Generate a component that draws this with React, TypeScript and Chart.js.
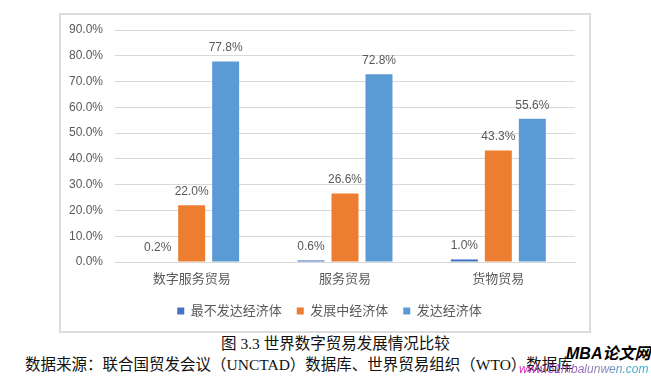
import React, { useEffect, useRef } from 'react';
import { Chart, registerables } from 'chart.js';

Chart.register(...registerables);

const categories = ['数字服务贸易', '服务贸易', '货物贸易'];
const seriesNames = ['最不发达经济体', '发展中经济体', '发达经济体'];
const leastDeveloped = [0.2, 0.6, 1.0];
const developing = [22.0, 26.6, 43.3];
const developed = [77.8, 72.8, 55.6];
const seriesColors = ['#4472C4', '#ED7D31', '#5B9BD5'];
const yMax = 90;
const yStep = 10;

const FONT = '"Liberation Sans", "Noto Sans CJK SC", sans-serif';
const TEXT_COLOR = '#595959';

const fmt = (v: number) => v.toFixed(1) + '%';

const dataLabelPlugin = {
  id: 'dataLabels',
  afterDatasetsDraw(chart: any) {
    const ctx = chart.ctx;
    ctx.save();
    ctx.font = `12px ${FONT}`;
    ctx.fillStyle = TEXT_COLOR;
    ctx.textAlign = 'center';
    ctx.textBaseline = 'alphabetic';
    chart.data.datasets.forEach((ds: any, di: number) => {
      const meta = chart.getDatasetMeta(di);
      meta.data.forEach((el: any, i: number) => {
        const v = ds.data[i] as number;
        ctx.fillText(fmt(v), el.x, el.y - 10);
      });
    });
    ctx.restore();
  },
};

function measureWidest(font: string): number {
  const c = document.createElement('canvas');
  const ctx = c.getContext('2d');
  if (!ctx) return 34;
  ctx.font = font;
  let w = 0;
  for (let v = 0; v <= yMax; v += yStep) {
    w = Math.max(w, ctx.measureText(fmt(v)).width);
  }
  return w;
}

function ChartCanvas() {
  const ref = useRef<HTMLCanvasElement | null>(null);
  useEffect(() => {
    const canvas = ref.current;
    if (!canvas) return;
    const values = [leastDeveloped, developing, developed];
    const widest = measureWidest(`12px ${FONT}`);
    const chart = new Chart(canvas, {
      type: 'bar',
      data: {
        labels: categories,
        datasets: seriesNames.map((name, i) => ({
          label: name,
          data: values[i],
          backgroundColor: seriesColors[i],
          borderWidth: 0,
          categoryPercentage: 0.665,
          barPercentage: 0.794,
        })),
      },
      options: {
        responsive: false,
        animation: false,
        devicePixelRatio: 1,
        layout: { padding: { left: 25, right: 15, top: 17, bottom: 4.5 } },
        plugins: {
          tooltip: { enabled: false },
          legend: {
            position: 'bottom',
            labels: {
              boxWidth: 7,
              boxHeight: 7,
              padding: 15,
              color: TEXT_COLOR,
              font: { size: 13, family: FONT },
            },
          },
        },
        scales: {
          x: {
            grid: { display: false, drawTicks: false },
            border: { display: true, color: '#D9D9D9' },
            ticks: {
              color: TEXT_COLOR,
              font: { size: 13, family: FONT },
              padding: 10,
            },
            afterFit(scale: any) {
              scale.height = 27.5;
            },
          },
          y: {
            min: 0,
            max: yMax,
            grid: { color: '#D9D9D9', drawTicks: false, lineWidth: 1 },
            border: { display: false },
            ticks: {
              stepSize: yStep,
              color: TEXT_COLOR,
              font: { size: 12, family: FONT },
              mirror: true,
              crossAlign: 'far',
              padding: -12 - widest,
              callback: (v: any) => fmt(Number(v)),
            },
            afterFit(scale: any) {
              scale.width = 31;
            },
          },
        },
      },
      plugins: [dataLabelPlugin],
    } as any);
    return () => chart.destroy();
  }, []);
  return (
    <canvas
      ref={ref}
      width={531}
      height={319}
      style={{ position: 'absolute', left: 59, top: 13, width: 531, height: 319 }}
    />
  );
}

export default function App() {
  useEffect(() => {
    document.body.style.margin = '0';
    document.body.style.background = '#ffffff';
  }, []);
  const serif = '"Liberation Serif", "Noto Sans CJK SC", serif';
  return (
    <div style={{ position: 'relative', width: 651, height: 376, background: '#fff', overflow: 'hidden' }}>
      <div
        style={{
          position: 'absolute',
          left: 59,
          top: 13,
          width: 532,
          height: 320,
          border: '2px solid #DCDCDC',
          boxSizing: 'border-box',
          background: '#fff',
        }}
      />
      <ChartCanvas />
      <div
        style={{
          position: 'absolute',
          left: 221,
          top: 335,
          fontFamily: serif,
          fontSize: 15.5,
          lineHeight: '17px',
          color: '#111',
          whiteSpace: 'nowrap',
        }}
      >
        图 3.3 世界数字贸易发展情况比较
      </div>
      <div
        style={{
          position: 'absolute',
          left: 25,
          top: 355.5,
          fontFamily: serif,
          fontSize: 15.5,
          lineHeight: '17px',
          color: '#111',
          whiteSpace: 'nowrap',
        }}
      >
        数据来源：联合国贸发会议（UNCTAD）数据库、世界贸易组织（WTO）数据库
      </div>
      <div
        style={{
          position: 'absolute',
          left: 566,
          top: 345,
          fontFamily: FONT,
          fontSize: 16,
          fontWeight: 'bold',
          fontStyle: 'italic',
          lineHeight: '18px',
          color: '#000',
          whiteSpace: 'nowrap',
        }}
      >
        MBA论文网
      </div>
      <div
        style={{
          position: 'absolute',
          left: 519,
          top: 362,
          fontFamily: FONT,
          fontSize: 12,
          fontStyle: 'italic',
          lineHeight: '14px',
          whiteSpace: 'nowrap',
          background: 'linear-gradient(90deg, #e01cc0 0%, #a050c0 35%, #8a80b0 60%, #20b8d0 100%)',
          WebkitBackgroundClip: 'text',
          backgroundClip: 'text',
          color: 'transparent',
        }}
      >
        www.51mbalunwen.com
      </div>
    </div>
  );
}
